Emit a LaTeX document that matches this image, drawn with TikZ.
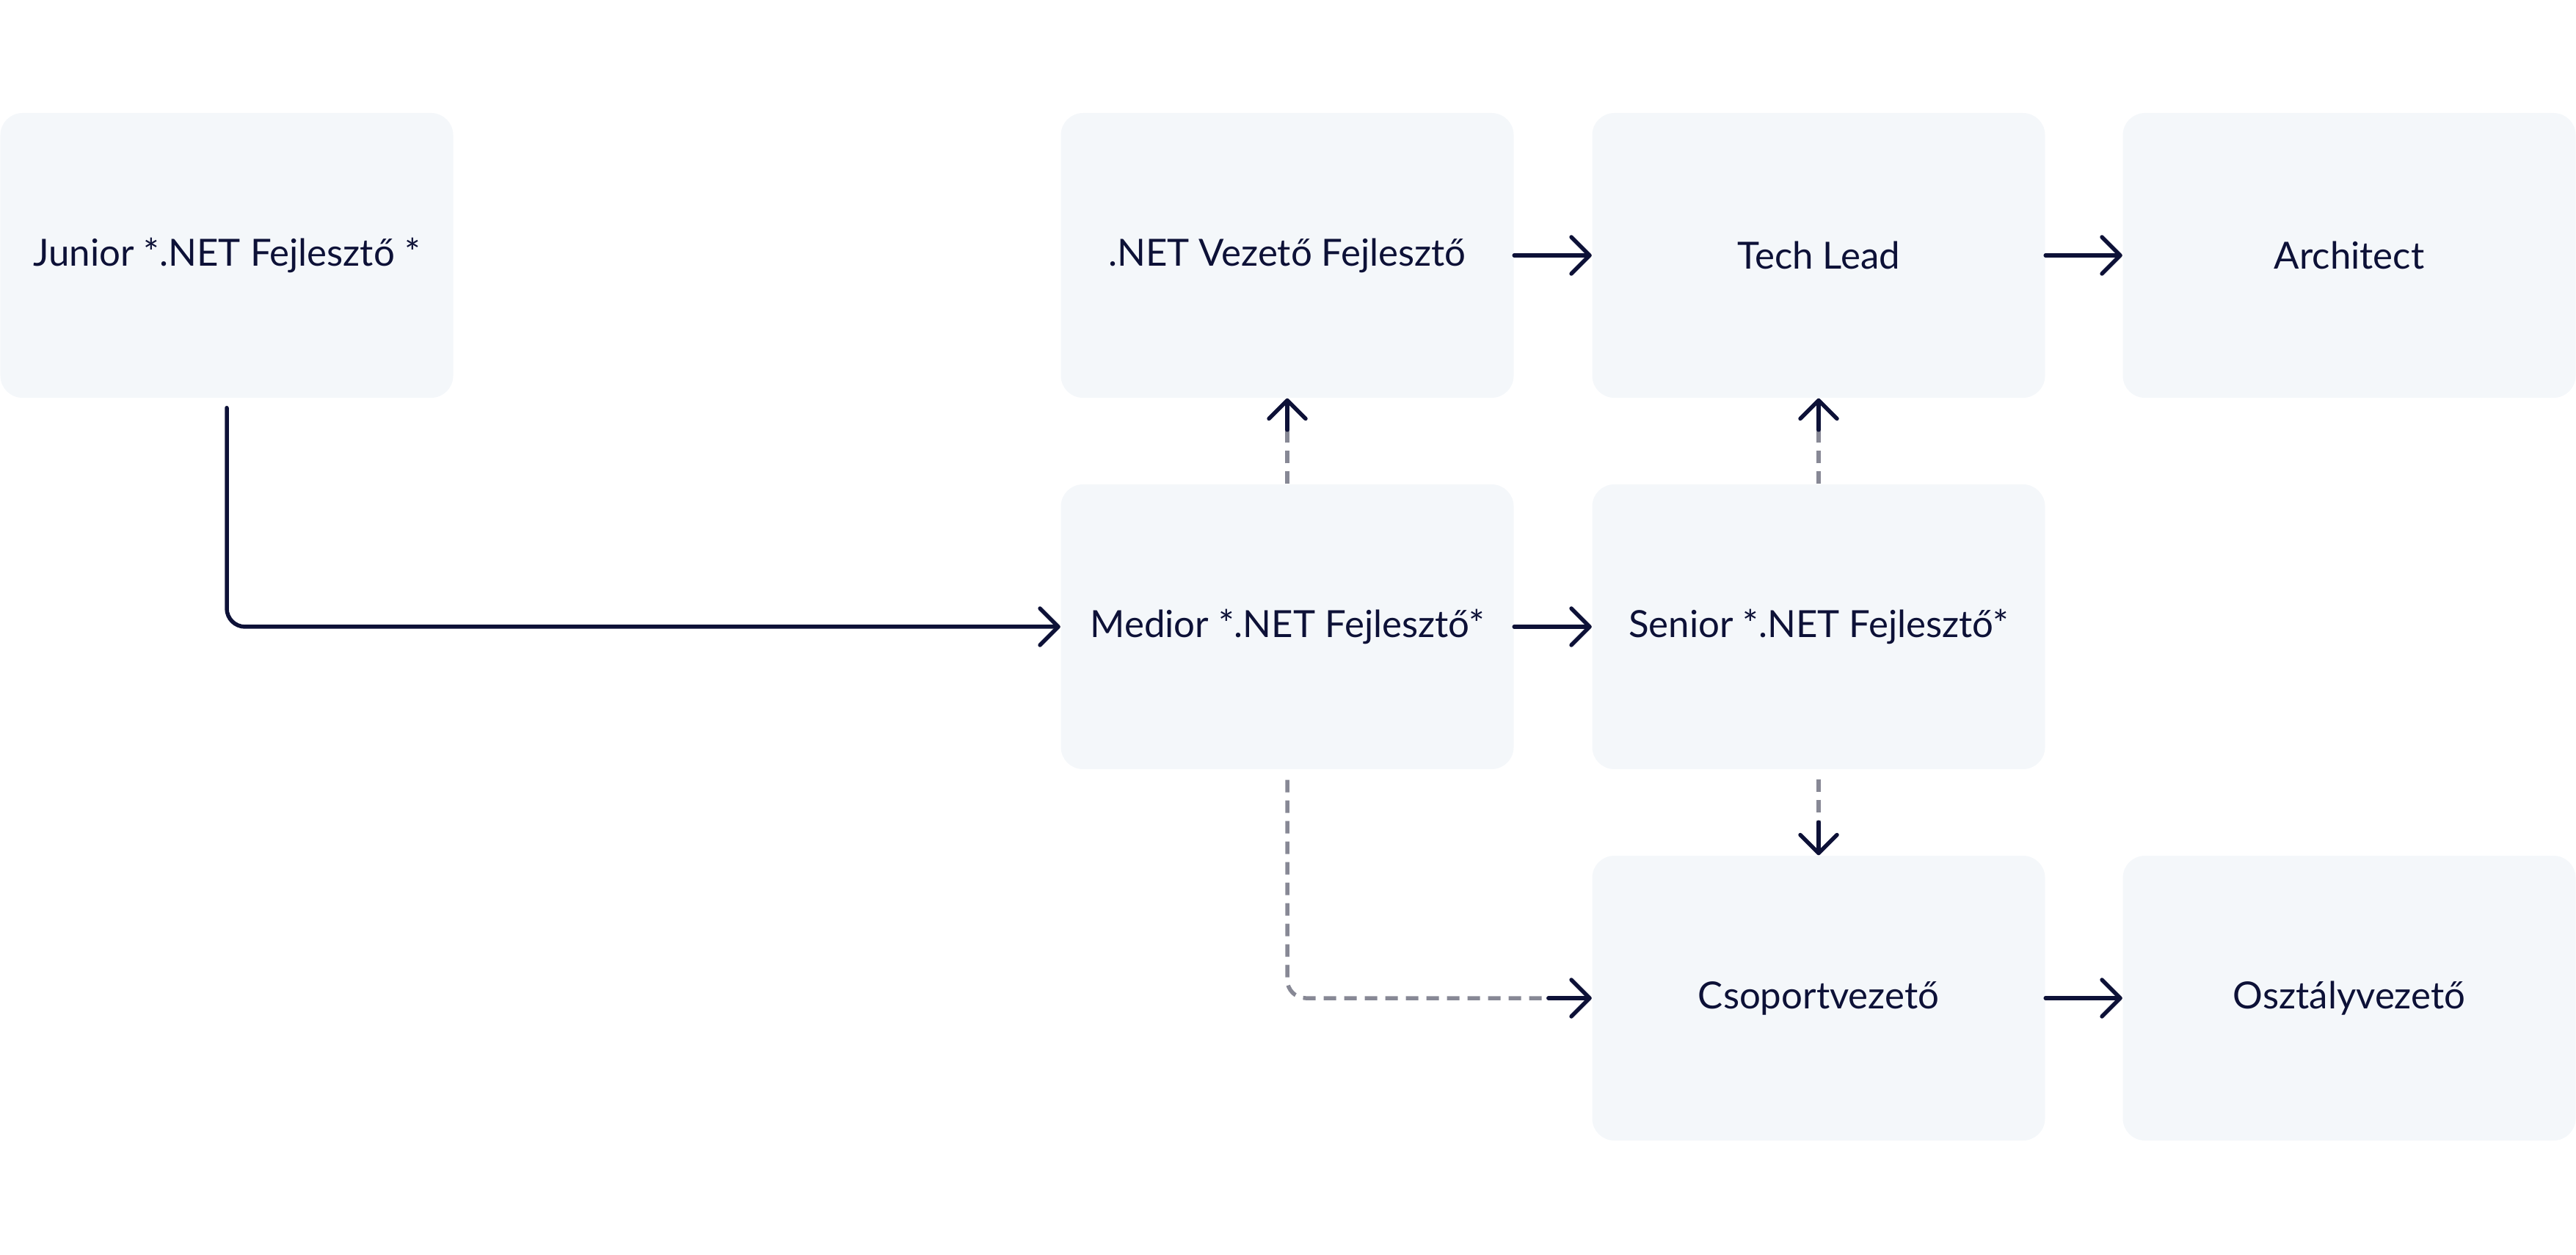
\documentclass[tikz,border=0pt]{standalone}
\usepackage{fontspec}
\setmainfont{Lato}
\usetikzlibrary{arrows.meta}
\definecolor{navy}{HTML}{0D1137}
\definecolor{dashgray}{HTML}{878895}
\definecolor{boxfill}{HTML}{F4F7FA}
\tikzset{
  rolebox/.style={rectangle, rounded corners=0.3cm, fill=boxfill, draw=none,
    minimum width=6.17cm, minimum height=3.88cm, inner sep=0pt,
    text=navy, font=\fontsize{14.5}{17}\selectfont},
  solidarrow/.style={draw=navy, line width=0.055cm, line cap=round,
    -{Straight Barb[length=0.25cm, width=0.5cm, round]}},
  dashline/.style={draw=dashgray, line width=0.055cm,
    dash pattern=on 0.17cm off 0.11cm},
}
\begin{document}
\begin{tikzpicture}
\useasboundingbox (0,0) rectangle (35.1,-17.1);
\node[rolebox] (jun) at (3.09,-3.48) {Junior *.NET Fejlesztő *};
\node[rolebox] (net) at (17.54,-3.48) {.NET Vezető Fejlesztő};
\node[rolebox] (tech) at (24.78,-3.48) {Tech Lead};
\node[rolebox] (arch) at (32.01,-3.48) {Architect};
\node[rolebox] (med) at (17.54,-8.54) {Medior *.NET Fejlesztő*};
\node[rolebox] (sen) at (24.78,-8.54) {Senior *.NET Fejlesztő*};
\node[rolebox] (cso) at (24.78,-13.60) {Csoportvezető};
\node[rolebox] (osz) at (32.01,-13.60) {Osztályvezető};

% solid connectors
\draw[solidarrow, rounded corners=0.25cm] ([yshift=-0.13cm]jun.south) |- (med.west);
\draw[solidarrow] (net.east) -- (tech.west);
\draw[solidarrow] (tech.east) -- (arch.west);
\draw[solidarrow] (med.east) -- (sen.west);
\draw[solidarrow] (cso.east) -- (osz.west);

% dashed connectors
\coordinate (netin) at ([yshift=-0.43cm]net.south);
\draw[dashline] (med.north) -- (netin);
\draw[solidarrow] (netin) -- (net.south);

\coordinate (techin) at ([yshift=-0.43cm]tech.south);
\draw[dashline] (sen.north) -- (techin);
\draw[solidarrow] (techin) -- (tech.south);

\coordinate (csoin) at ([yshift=0.45cm]cso.north);
\draw[dashline] ([yshift=-0.13cm]sen.south) -- (csoin);
\draw[solidarrow] (csoin) -- (cso.north);

\coordinate (csoleft) at ([xshift=-0.59cm]cso.west);
\draw[dashline, rounded corners=0.25cm] ([yshift=-0.14cm]med.south) |- (csoleft);
\draw[solidarrow] (csoleft) -- (cso.west);
\end{tikzpicture}
\end{document}
